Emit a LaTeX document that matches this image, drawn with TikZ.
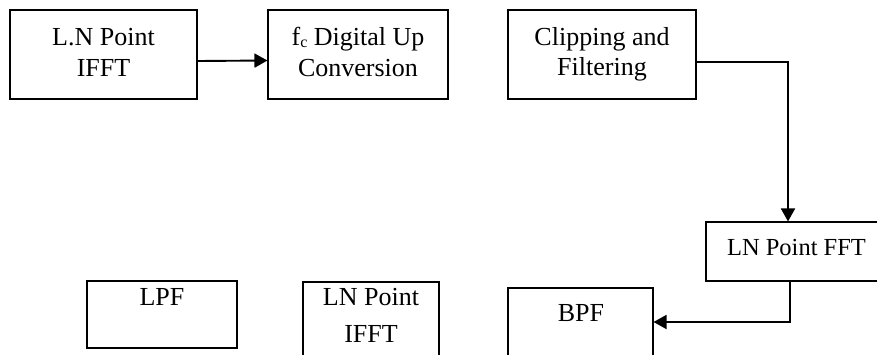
\documentclass[tikz,border=0pt]{standalone}
\usepackage{fontspec}
\setmainfont{Liberation Serif}
\usetikzlibrary{arrows.meta}
\begin{document}
\begin{tikzpicture}[x=1pt,y=-1pt,
  box/.style={draw, line width=1.1pt, inner sep=0pt, rectangle},
  txt/.style={inner sep=0pt, anchor=base, font=\fontsize{26}{28}\selectfont},
  arr/.style={line width=1.9pt, -{Triangle[length=13pt,width=14pt]}},
  conn/.style={line width=1.9pt}]
\useasboundingbox (0,0) rectangle (877,354);
\clip (0,0) rectangle (877,354);
% boxes
\node[box, minimum width=187pt, minimum height=89pt] (b1) at (103.5,54.5) {};
\node[box, minimum width=180pt, minimum height=89pt] (b2) at (358,54.5) {};
\node[box, minimum width=188pt, minimum height=89pt] (b3) at (602,54.5) {};
\node[box, minimum width=194pt, minimum height=59pt] (fft) at (803,251.5) {};
\node[box, minimum width=145pt, minimum height=112pt] (bpf) at (580.5,344) {};
\node[box, minimum width=150pt, minimum height=67pt] (lpf) at (162,314.5) {};
\node[box, minimum width=136pt, minimum height=118pt] (ifft) at (371,341) {};
% texts
\node[txt] (t1a) at (103.5,45) {L.N Point};
\node[txt] (t1b) at (103.5,76) {IFFT};
\node[txt] (t2a) at (358,45) {f\raisebox{-0.25ex}{\fontsize{16}{16}\selectfont c} Digital Up};
\node[txt] (t2b) at (358,76) {Conversion};
\node[txt] (t3a) at (602,45) {Clipping and};
\node[txt] (t3b) at (602,75) {Filtering};
\node[txt, font=\fontsize{24.5}{28}\selectfont] (t4) at (796.5,255) {LN Point FFT};
\node[txt] (t5) at (581,321) {BPF};
\node[txt] (t6) at (162,305) {LPF};
\node[txt] (t7a) at (371,305) {LN Point};
\node[txt] (t7b) at (371,342) {IFFT};
% connectors
\draw[arr] ([yshift=-6.5pt]b1.east) -- ([yshift=-6pt]b2.west);
\draw[arr] ([yshift=-7.5pt]b3.east) -| ([xshift=-15pt]fft.north);
\draw[arr] ([xshift=-13pt]fft.south) |- ([yshift=22pt]bpf.east);
\end{tikzpicture}
\end{document}
